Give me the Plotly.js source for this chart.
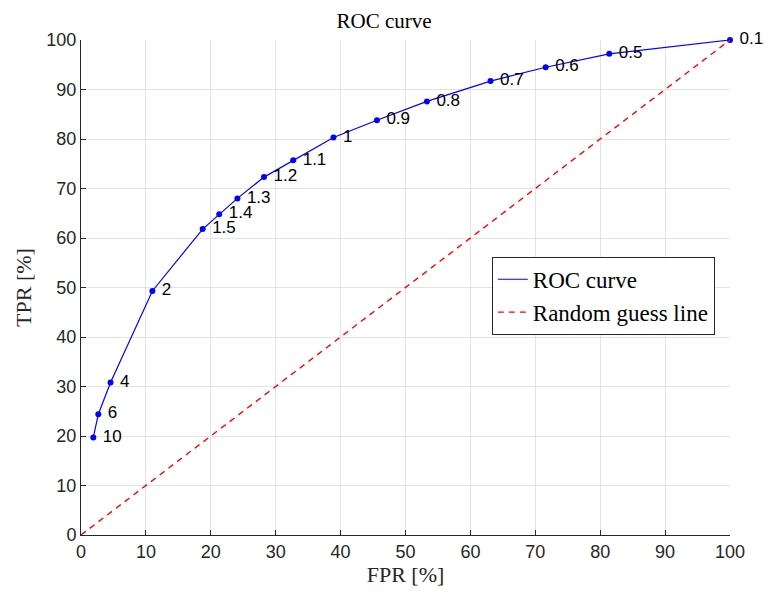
<!DOCTYPE html>
<html>
<head>
<meta charset="utf-8">
<script src="https://cdn.plot.ly/plotly-3.0.1.min.js"></script>
<style>html,body{margin:0;padding:0;background:#fff;}#chart{width:768px;height:595px;}</style>
</head>
<body>
<div id="chart"></div>
<script>
const thresholds = ['10','6','4','2','1.5','1.4','1.3','1.2','1.1','1','0.9','0.8','0.7','0.6','0.5','0.1'];
const fpr = [1.9, 2.67, 4.55, 11.0, 18.75, 21.3, 24.1, 28.2, 32.7, 38.9, 45.6, 53.3, 63.1, 71.6, 81.4, 100];
const tpr = [19.7, 24.4, 30.8, 49.3, 61.8, 64.8, 68.0, 72.3, 75.7, 80.3, 83.8, 87.6, 91.7, 94.5, 97.2, 100];
const guessX = [0, 100];
const guessY = [0, 100];
const xTicks = [0,10,20,30,40,50,60,70,80,90,100];
const yTicks = [0,10,20,30,40,50,60,70,80,90,100];

const serif = 'Liberation Serif, DejaVu Serif, serif';
const sans = 'Liberation Sans, Arial, sans-serif';

const traces = [
  {
    x: fpr, y: tpr, name: 'ROC curve', type: 'scatter', mode: 'lines',
    line: {color: '#0000ff', width: 1.2}
  },
  {
    x: fpr, y: tpr, name: 'thresholds', type: 'scatter', showlegend: false,
    mode: 'markers+text',
    text: thresholds.map(t => ' ' + t),
    textposition: 'middle right',
    textfont: {family: sans, size: 17, color: '#000'},
    cliponaxis: false,
    marker: {color: '#0000ff', size: 6}
  },
  {
    x: guessX, y: guessY, name: 'Random guess line', type: 'scatter', mode: 'lines',
    line: {color: '#ff0000', width: 1.4, dash: '6px,5px'}
  }
];

const axisCommon = {
  showgrid: true, gridcolor: '#e3e3e3', gridwidth: 1,
  zeroline: false, showline: true, linecolor: '#262626', linewidth: 1,
  ticks: 'inside', ticklen: 5, tickcolor: '#262626',
  tickfont: {family: sans, size: 18, color: '#262626'},
  fixedrange: true
};

const layout = {
  width: 768, height: 595,
  margin: {l: 81, r: 38, t: 40, b: 60},
  paper_bgcolor: '#fff', plot_bgcolor: '#fff',
  title: {text: 'ROC curve', font: {family: serif, size: 21, color: '#000'}, x: 0.5, xanchor: 'center', y: 0.965, yanchor: 'middle'},
  xaxis: Object.assign({}, axisCommon, {
    range: [0, 100], tickvals: xTicks,
    title: {text: 'FPR [%]', font: {family: serif, size: 22, color: '#262626'}, standoff: 5}
  }),
  yaxis: Object.assign({}, axisCommon, {
    range: [0, 100], tickvals: yTicks,
    title: {text: 'TPR [%]', font: {family: serif, size: 22, color: '#262626'}, standoff: 8}
  }),
  legend: {
    x: 0.633, y: 0.562, xanchor: 'left', yanchor: 'top',
    bgcolor: '#fff', bordercolor: '#262626', borderwidth: 1,
    font: {family: serif, size: 23, color: '#000'},
    tracegroupgap: 0, itemwidth: 30
  },
  showlegend: true
};

Plotly.newPlot('chart', traces, layout, {displayModeBar: false, staticPlot: true});
</script>
</body>
</html>
